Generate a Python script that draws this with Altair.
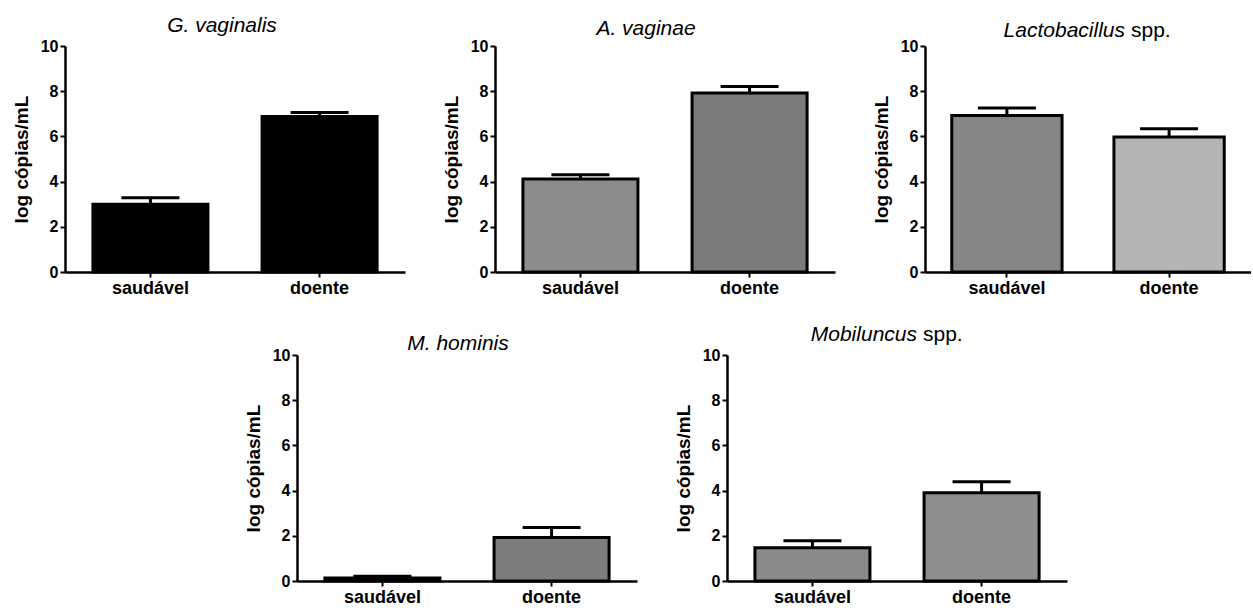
import altair as alt
import pandas as pd

# ---- data ----
categories = ["saudável", "doente"]
panel_titles = ["G. vaginalis", "A. vaginae", "Lactobacillus", "M. hominis", "Mobiluncus"]
title_suffix = ["", "", "spp.", "", "spp."]
means = [
    [3.00, 6.88],   # G. vaginalis
    [4.12, 7.92],   # A. vaginae
    [6.93, 5.97],   # Lactobacillus spp.
    [0.13, 1.93],   # M. hominis
    [1.47, 3.90],   # Mobiluncus spp.
]
errors = [
    [0.29, 0.18],
    [0.18, 0.29],
    [0.33, 0.37],
    [0.08, 0.44],
    [0.31, 0.49],
]
y_ticks = [0, 2, 4, 6, 8, 10]

# ---- styling ----
fills = [
    ["#000000", "#000000"],
    ["#8c8c8c", "#7a7a7a"],
    ["#858585", "#b4b4b4"],
    ["#2a2a2a", "#7c7c7c"],
    ["#8a8a8a", "#8e8e8e"],
]
widths = [340, 340, 326, 340, 340]
title_x = [157, 151, 200, 161, 190]
title_y = [-14, -11, -9, -5, -14]
PLOT_H = 226
FONT = "Liberation Sans"


def panel(i):
    df = pd.DataFrame({
        "cat": categories,
        "mean": means[i],
        "top": [m + e for m, e in zip(means[i], errors[i])],
        "fill": fills[i],
    })
    xs = alt.Scale(domain=categories, paddingInner=0.32, paddingOuter=0.165)
    xa = alt.Axis(title=None, labelAngle=0)
    ys = alt.Scale(domain=[0, 10], nice=False)
    ya = alt.Axis(values=y_ticks, title="log cópias/mL")

    def X():
        return alt.X("cat:N", sort=categories, scale=xs, axis=xa)

    bars = alt.Chart(df).mark_bar(stroke="black", strokeWidth=3, opacity=1).encode(
        x=X(),
        y=alt.Y("mean:Q", scale=ys, axis=ya, title="log cópias/mL"),
        fill=alt.Fill("fill:N", scale=None),
    )
    rule = alt.Chart(df).mark_rule(color="black", strokeWidth=3, opacity=1).encode(
        x=X(),
        y=alt.Y("mean:Q", scale=ys, axis=ya, title="log cópias/mL"),
        y2="top:Q",
    )
    cap = alt.Chart(df).mark_tick(color="black", thickness=3, size=58, orient="horizontal", opacity=1).encode(
        x=X(),
        y=alt.Y("top:Q", scale=ys, axis=ya, title="log cópias/mL"),
    )
    one = pd.DataFrame({"k": [0]})
    layers = [rule, bars, cap]
    if title_suffix[i]:
        layers.append(
            alt.Chart(one).mark_text(text=panel_titles[i], font=FONT, fontStyle="italic", fontSize=21,
                                     align="right", baseline="alphabetic", color="black")
            .encode(x=alt.value(title_x[i]), y=alt.value(title_y[i]))
        )
        layers.append(
            alt.Chart(one).mark_text(text=title_suffix[i], font=FONT, fontSize=21,
                                     align="left", baseline="alphabetic", color="black")
            .encode(x=alt.value(title_x[i] + 6), y=alt.value(title_y[i]))
        )
    else:
        layers.append(
            alt.Chart(one).mark_text(text=panel_titles[i], font=FONT, fontStyle="italic", fontSize=21,
                                     align="center", baseline="alphabetic", color="black")
            .encode(x=alt.value(title_x[i]), y=alt.value(title_y[i]))
        )
    return alt.layer(*layers).properties(width=widths[i], height=PLOT_H)


spacer = alt.Chart(pd.DataFrame({"k": [0]})).mark_point(opacity=0).encode(
    x=alt.value(0), y=alt.value(0)
).properties(width=142, height=PLOT_H)

top = alt.hconcat(panel(0), panel(1), panel(2), spacing=90, bounds="flush")
bottom = alt.hconcat(spacer, panel(3), panel(4), spacing=90, bounds="flush")

chart = alt.vconcat(top, bottom, spacing=27).properties(
    padding={"left": 12, "top": 15, "right": 0, "bottom": 0},
    background="white",
).configure_view(
    strokeWidth=0
).configure_axis(
    domainColor="black", domainWidth=2.5, tickColor="black", tickWidth=2, tickSize=5,
    labelColor="black", labelFont=FONT, labelFontWeight="bold",
    titleColor="black", titleFont=FONT, titleFontWeight="bold", grid=False,
).configure_axisY(
    labelFontSize=16, labelPadding=2, titleFontSize=19, titlePadding=9,
).configure_axisX(
    labelFontSize=18, labelPadding=2,
)

chart.save("out.html", embed_options={"renderer": "svg", "actions": False})
